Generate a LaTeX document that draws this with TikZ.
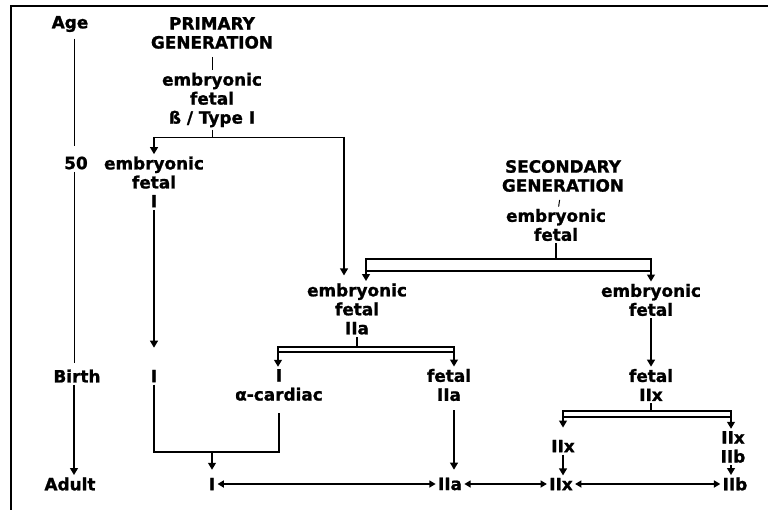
\documentclass[tikz,border=0pt]{standalone}
\usepackage{fontspec}
\setmainfont{DejaVu Sans}[BoldFeatures={FakeBold=1.2}]
\usetikzlibrary{arrows.meta}
\tikzset{
  texto/.style={font=\bfseries\fontsize{12}{13.5}\selectfont, align=center, inner sep=1.5pt},
  fina/.style={line width=0.7pt},
  media/.style={line width=1pt},
  gruesa/.style={line width=1.7pt},
  flecha/.style={gruesa, -{Triangle[length=5pt,width=5.5pt]}},
  doble/.style={line width=1.1pt, {Triangle[length=4.5pt,width=5pt]}-{Triangle[length=4.5pt,width=5pt]}}
}

\begin{document}
\begin{tikzpicture}[x=0.025cm, y=-0.025cm]
  \useasboundingbox (0,0) rectangle (768,510);

  % --- Marco ---
  \draw[line width=1.4pt] (11,510) -- (11,6) -- (768,6);

  % --- Eje de edad ---
  \coordinate (eje) at (74,0);
  \node[texto] (age) at (70,24) {Age};
  \node[texto] (d50) at (76,163) {50};
  \node[texto] (birth) at (77,376) {Birth};
  \node[texto] (adult) at (70,484) {Adult};

  \draw[fina, shorten <=3pt, shorten >=6pt] (age.south -| eje) -- (d50.north -| eje);
  \draw[fina, shorten >=3pt] (d50.south -| eje) -- (birth.north -| eje);
  \draw[flecha] (birth.south -| eje) -- (adult.north -| eje);

  % --- Nodos ---
  \node[texto] (prim) at (212,33) {PRIMARY\\GENERATION};
  \node[texto] (p0) at (212,100) {embryonic\\fetal\\ß / Type I};
  \node[texto] (p1) at (154,182) {embryonic\\fetal\\I};
  \node[texto] (sec) at (563,176) {SECONDARY\\GENERATION};
  \node[texto] (s0) at (556,225) {embryonic\\fetal};
  \node[texto] (m1) at (357,309) {embryonic\\fetal\\IIa};
  \node[texto] (r1) at (651,300) {embryonic\\fetal};
  \node[texto] (bI) at (154,376) {I};
  \node[texto] (bcard) at (279,385) {I\\α-cardiac};
  \node[texto] (bIIa) at (449,385) {fetal\\IIa};
  \node[texto] (bIIx) at (651,385) {fetal\\IIx};
  \node[texto] (x1) at (563,446) {IIx};
  \node[texto] (x2) at (733,447) {IIx\\IIb};
  \node[texto] (aI) at (212,484) {I};
  \node[texto] (aIIa) at (450,484) {IIa};
  \node[texto] (aIIx) at (561,484) {IIx};
  \node[texto] (aIIb) at (735,484) {IIb};

  % --- Generacion primaria ---
  \coordinate (pizq) at (154,137);
  \coordinate (pder) at (344,137);
  \draw[fina, shorten <=4pt] (prim) -- (p0);
  \draw[fina] (p0.south) -- (p0.south |- pizq);
  \draw[fina] (pizq) -- (pder);
  \draw[flecha] (pizq) -- (p1.north);
  \draw[flecha, shorten >=4pt] (pder) -- (pder |- m1.north);
  \draw[flecha, shorten >=14pt] (p1) -- (bI);

  % --- Generacion secundaria ---
  \coordinate (sizq) at (366,259);
  \coordinate (sder) at (651,259);
  \coordinate (sbajo) at (651,271);
  \draw[fina, shorten <=4pt] (sec) -- (s0);
  \draw[media] (s0.south) -- (s0.south |- sizq);
  \draw[media] (sizq) rectangle (sbajo);
  \draw[flecha] (sizq) -- (sizq |- m1.north);
  \draw[flecha] (sder) -- (r1.north);
  \draw[flecha] (r1) -- (bIIx);

  % --- Division IIa ---
  \coordinate (mizq) at (278,347);
  \coordinate (mder) at (454,347);
  \coordinate (mbajo) at (454,352);
  \draw[media] (m1.south) -- (m1.south |- mizq);
  \draw[media] (mizq) rectangle (mbajo);
  \draw[flecha] (mizq) -- (mizq |- bcard.north);
  \draw[flecha] (mder) -- (mder |- bIIa.north);
  \draw[flecha, shorten <=5pt, shorten >=4pt] (bIIa.south -| mder) -- (aIIa.north -| mder);

  % --- Division IIx ---
  \coordinate (xizq) at (563,411);
  \coordinate (xder) at (731,411);
  \coordinate (xbajo) at (731,417);
  \draw[media] (bIIx.south) -- (bIIx.south |- xizq);
  \draw[media] (xizq) rectangle (xbajo);
  \draw[flecha, shorten >=7pt] (xizq) -- (x1.north);
  \draw[flecha] (xder) -- (xder |- x2.north);
  \draw[flecha] (x1) -- (aIIx.north -| x1);
  \draw[flecha] (x2.south -| xder) -- (aIIb.north -| xder);

  % --- Union hacia I adulto ---
  \coordinate (union) at (212,452);
  \draw[media, shorten >=7pt] (bI.south) |- (union) -| (bcard.south);
  \draw[flecha, shorten >=4pt] (union) -- (aI);

  % --- Fila adulta ---
  \draw[doble] (aI) -- (aIIa);
  \draw[doble] (aIIa) -- (aIIx);
  \draw[doble] (aIIx) -- (aIIb);

\end{tikzpicture}
\end{document}
